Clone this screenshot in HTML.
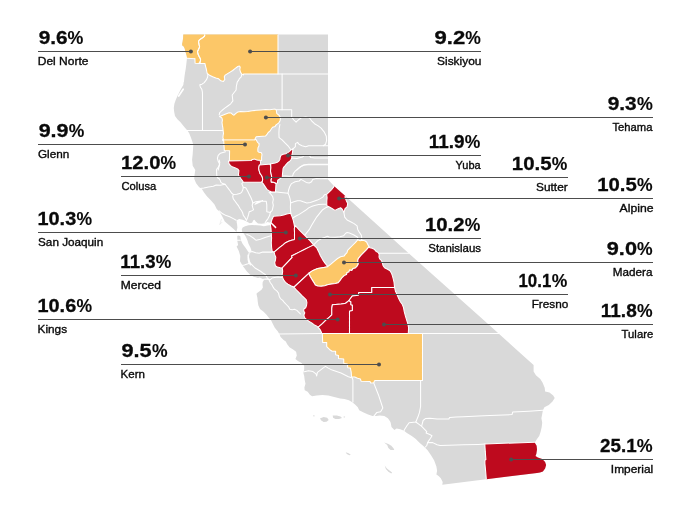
<!DOCTYPE html>
<html lang="en"><head><meta charset="utf-8"><title>California counties</title>
<style>html,body{margin:0;padding:0;background:#fff}body{width:682px;height:509px;overflow:hidden;position:relative}svg{position:absolute;left:0;top:0;display:block}text{font-family:"Liberation Sans",sans-serif;fill:#0a0a0a}.n{font-weight:bold;font-size:19.0px;stroke:#0a0a0a;stroke-width:.3px}.c{font-size:11.0px;stroke:#0a0a0a;stroke-width:.35px}.ld{stroke:#4d4d4d;stroke-width:1;fill:none}.dot{fill:#4d4d4d}.b{fill:none;stroke:#fff;stroke-width:1.05;stroke-linejoin:round;stroke-linecap:round}.cy{stroke:#fff;stroke-width:1.05;stroke-linejoin:round}</style></head><body>
<svg width="682" height="509" viewBox="0 0 682 509">
<g id="map">
<path fill="#d9d9d9" d="M183.4,34.6 L328.0,34.6 L328.0,179.4 L334.2,186.3 L344.5,195.3 L404.8,249.8 L430.0,272.2 L483.6,320.0 L522.4,355.0 L533.6,365.0 L533.6,371.6 L535.9,375.2 L540.3,378.9 L542.5,382.6 L544.7,387.8 L545.1,391.4 L548.4,392.2 L549.5,392.5 L553.2,395.5 L554.7,398.0 L552.5,401.4 L548.8,405.0 L544.4,407.2 L542.9,410.2 L542.2,413.9 L541.4,418.3 L542.2,422.7 L541.7,427.1 L540.7,431.6 L539.2,436.0 L537.0,438.9 L535.1,441.9 L534.8,442.8 L536.6,445.8 L537.0,449.5 L536.3,453.9 L535.5,456.1 L537.8,457.6 L542.2,459.0 L545.1,462.0 L546.1,464.9 L545.1,468.6 L542.9,471.6 L540.0,472.6 L537.0,473.0 L442.3,484.8 L442.7,481.9 L440.8,478.2 L438.6,476.0 L436.4,474.5 L437.1,470.8 L436.4,466.4 L434.2,460.5 L431.2,455.4 L427.6,450.2 L423.9,446.5 L419.5,442.8 L415.8,439.1 L412.1,436.2 L410.6,435.2 L406.9,433.0 L404.0,430.8 L400.3,429.3 L396.6,428.6 L394.4,430.1 L391.5,427.1 L390.7,422.7 L390.0,421.2 L387.9,418.3 L384.3,416.1 L379.8,415.4 L376.2,416.1 L372.5,416.1 L368.1,414.6 L363.6,412.4 L359.2,410.2 L357.8,407.2 L354.8,404.3 L351.9,402.1 L348.9,400.3 L344.5,398.9 L340.1,398.4 L334.2,396.9 L328.3,395.5 L322.4,395.0 L316.5,395.5 L312.1,396.2 L309.9,394.7 L307.7,391.8 L304.7,390.3 L304.4,387.4 L305.5,383.7 L304.7,380.0 L304.2,376.0 L303.4,373.0 L304.2,369.3 L304.2,365.7 L301.2,362.7 L298.3,361.2 L295.4,359.0 L296.8,355.4 L296.1,351.7 L293.1,349.5 L289.5,347.2 L287.2,344.3 L285.8,341.4 L283.6,340.0 L280.6,337.1 L279.5,334.2 L277.7,331.2 L274.8,327.7 L273.0,324.2 L271.2,320.6 L268.9,317.7 L266.5,314.8 L263.6,311.8 L260.0,308.9 L258.3,305.3 L257.7,301.2 L257.4,297.7 L256.5,294.1 L256.8,293.3 L259.2,291.5 L261.5,289.8 L262.9,287.4 L262.5,284.5 L262.7,282.1 L263.9,280.3 L262.7,279.1 L259.8,277.4 L258.0,278.1 L253.6,276.7 L249.9,274.5 L246.9,271.5 L244.7,268.6 L242.5,265.6 L240.0,261.2 L240.3,256.1 L238.8,250.9 L236.6,246.5 L238.1,245.0 L237.3,240.7 L237.3,235.5 L236.6,231.9 L233.6,228.9 L229.2,225.2 L224.8,221.6 L221.9,215.7 L219.7,212.0 L216.7,209.0 L214.5,204.6 L210.8,200.2 L207.1,196.5 L204.2,192.8 L202.0,189.2 L199.0,186.9 L196.1,183.2 L194.2,178.8 L194.6,174.4 L195.3,170.0 L192.7,165.7 L192.1,159.8 L192.7,153.9 L193.1,148.0 L193.3,145.0 L192.3,141.6 L190.9,137.4 L189.2,133.3 L187.4,130.4 L185.6,128.6 L183.3,125.7 L180.3,122.1 L177.4,119.2 L175.0,115.9 L174.2,112.1 L173.8,108.0 L174.4,103.8 L175.8,99.7 L177.7,95.6 L179.7,91.5 L181.5,88.0 L183.3,85.0 L183.7,81.9 L183.9,82.0 L184.4,77.2 L185.0,73.1 L185.7,69.0 L186.2,64.9 L186.7,60.8 L187.0,57.7 L186.7,55.7 L186.0,53.6 L185.2,51.0 L184.7,48.5 L183.7,46.4 L182.3,45.4 L182.1,43.9 L182.6,41.8 L183.1,38.2 L183.3,34.6Z"/>
<path fill="#d9d9d9" d="M319.9,418.4 L323.6,416.9 L327.2,417.7 L328.7,419.9 L326.5,421.8 L323.6,422.1 L321.4,420.6Z"/>
<path fill="#d9d9d9" d="M332.7,415.5 L336.8,415.5 L340.5,416.5 L342.0,418.0 L339.0,419.1 L335.4,419.1 L333.1,417.7Z"/>
<path fill="#d9d9d9" d="M313.2,415.3 L314.7,415.6 L314.4,416.6 L313.2,416.2Z"/>
<path fill="#d9d9d9" d="M343.6,416.5 L345.1,416.6 L344.8,417.5 L343.7,417.4Z"/>
<path fill="#d9d9d9" d="M384.2,442.4 L388.4,443.9 L391.3,445.7 L393.5,448.3 L394.3,450.1 L390.6,450.1 L388.4,447.9 L387.2,444.9Z"/>
<path fill="#d9d9d9" d="M345.7,452.3 L348.6,453.3 L350.8,454.8 L349.3,455.2 L346.8,453.9Z"/>
<path fill="#d9d9d9" d="M384.7,465.5 L386.9,468.5 L389.8,470.7 L392.1,472.5 L391.3,473.6 L388.4,471.7 L385.9,468.9Z"/>
<path fill="none" stroke="#d9d9d9" stroke-width=".7" stroke-opacity=".6" d="M221.5,218.9 L219.7,224.6 L222.2,222.0"/>
<path fill="#fff" d="M236.2,232.7 L236.8,230.3 L237.4,227.4 L237.1,224.4 L236.6,222.1 L236.8,220.3 L239.2,219.1 L242.7,219.7 L245.7,220.9 L249.8,223.3 L252.1,222.7 L253.3,220.3 L254.5,219.7 L255.7,221.5 L258.0,223.6 L261.6,223.8 L265.1,223.3 L267.4,222.1 L270.4,222.7 L271.2,223.8 L271.0,225.0 L267.4,225.6 L263.9,226.2 L260.4,225.6 L256.8,225.3 L252.1,225.0 L248.6,225.3 L245.1,226.2 L242.7,227.4 L241.8,229.2 L242.1,231.5 L244.5,234.5 L246.2,237.4 L247.4,240.3 L248.6,243.9 L250.4,247.4 L251.5,250.4 L250.4,252.1 L249.2,252.7 L248.0,251.5 L245.7,248.0 L242.7,243.9 L240.9,240.3 L240.3,236.2 L238.6,235.4 L236.6,235.9 L235.0,234.5Z"/>
<path class="b" d="M207.9,73.8 L207.7,76.7 L206.5,79.7 L204.2,82.6 L202.0,84.2 L199.8,84.8 L200.3,87.0 L201.8,89.2 L202.4,92.2 L202.5,95.0 L202.5,130.5"/>
<path class="b" d="M241.8,74.5 L241.2,76.8 L239.4,78.6 L238.5,80.4 L237.2,82.1 L236.8,84.3 L236.3,86.5 L236.1,90.0 L232.2,95.0 L232.5,98.0 L232.9,100.9 L230.7,103.8 L227.8,106.0 L224.8,108.2 L221.9,110.5 L219.7,112.7 L219.2,114.9"/>
<path class="b" d="M278.0,73.9 L328.0,73.9"/>
<path class="b" d="M282.1,73.9 L282.1,109.7"/>
<path class="b" d="M187.0,130.5 L223.3,130.5"/>
<path class="b" d="M225.5,151.7 L220.4,153.2 L218.2,155.4 L217.4,158.3 L218.2,161.3 L219.7,164.2 L218.9,167.2 L218.2,170.0"/>
<path class="b" d="M276.2,109.7 L291.7,109.7 L291.7,117.1 L293.9,120.0 L296.1,122.2 L298.3,120.0 L301.2,117.8 L305.7,117.1 L309.3,117.8 L311.6,120.8 L314.5,123.7 L318.2,125.9 L321.1,128.1 L324.1,131.8 L326.3,136.2 L326.6,140.7 L325.5,144.3 L323.3,145.8"/>
<path class="b" d="M279.9,124.5 L279.1,128.9 L278.9,133.3 L279.1,137.7 L282.1,139.9 L285.0,142.9 L288.0,145.8 L290.2,148.8 L291.7,150.2 L295.4,146.6 L295.4,143.6 L297.6,142.4 L299.0,144.3 L302.0,145.8 L305.7,146.8 L308.6,145.8 L323.3,145.8 L328.0,145.8"/>
<path class="b" d="M291.2,158.0 L296.8,158.6 L302.7,156.9 L304.2,155.4 L309.3,155.7 L310.8,157.6 L314.5,158.0 L328.0,158.0"/>
<path class="b" d="M296.8,170.0 L299.8,167.2 L303.4,165.0 L308.6,164.2 L328.0,164.2"/>
<path class="b" d="M219.2,160.0 L219.8,162.4 L219.2,165.3 L218.0,167.7 L216.6,169.4 L216.6,171.8 L216.8,175.3 L217.4,177.7 L219.2,178.8 L220.3,180.6 L220.9,182.4 L222.7,183.6 L225.1,184.2"/>
<path class="b" d="M200.3,188.5 L203.8,188.0 L208.6,186.9 L213.3,186.2 L216.2,185.0 L220.3,185.3 L225.1,184.2 L226.8,186.5 L228.6,188.9 L230.4,191.2 L231.5,193.0 L233.3,194.4"/>
<path class="b" d="M243.6,181.8 L241.8,183.6 L242.7,185.9 L243.3,187.7 L242.7,190.0 L241.6,192.4 L239.8,193.6 L236.8,194.2 L233.3,194.4 L232.7,196.5 L233.3,198.9 L235.1,201.2 L236.8,203.6 L238.6,205.9 L239.8,208.3 L241.6,210.7 L242.7,213.0 L243.3,215.4 L245.1,217.7 L246.3,220.0"/>
<path class="b" d="M243.3,187.3 L245.7,187.7 L247.4,190.6 L249.2,194.2 L251.0,197.7 L252.2,200.7 L252.8,203.0 L252.2,205.4 L252.1,205.0 L252.7,207.4 L253.5,209.9 L251.5,210.9 L249.2,211.8 L248.6,214.4 L247.7,217.4 L246.5,220.3"/>
<path class="b" d="M252.8,203.0 L255.7,201.8 L259.2,201.2 L262.8,200.7 L255.0,204.2 L258.5,201.8 L262.1,201.2 L266.2,201.2 L266.8,204.8 L266.8,209.5 L266.8,211.8 L270.3,212.4"/>
<path class="b" d="M219.1,210.9 L222.7,213.8 L226.2,215.6 L229.7,216.8 L233.3,218.6 L236.2,220.3"/>
<path class="b" d="M246.8,234.5 L249.8,235.6 L253.3,238.0 L256.2,240.3 L260.4,239.2 L265.1,237.4 L269.2,236.2 L271.9,235.4"/>
<path class="b" d="M250.4,252.1 L252.1,251.5 L255.7,252.7 L259.2,253.3 L262.7,252.1 L267.4,252.1 L272.2,252.1 L274.3,251.3"/>
<path class="b" d="M249.2,252.7 L248.6,255.7 L248.0,259.2 L248.6,262.1 L250.4,265.0 L248.0,255.0 L248.0,257.9 L249.2,260.9 L250.3,263.2 L252.7,265.6 L255.0,268.0 L258.0,269.7 L260.9,271.5 L263.3,273.3 L265.1,274.4 L267.4,278.0 L269.2,280.3 L270.4,282.7 L272.1,285.0 L273.3,287.4 L274.5,289.2 L276.8,290.9 L278.6,293.3 L279.2,296.2 L280.4,298.6 L282.7,300.4 L284.5,302.7 L286.3,304.5 L288.6,306.8 L289.8,309.2 L292.2,309.8 L294.5,309.2 L296.9,310.4 L298.6,312.1 L300.4,313.9"/>
<path class="b" d="M236.8,240.3 L240.3,240.3"/>
<path class="b" d="M270.4,212.1 L269.6,215.6 L268.0,218.6 L266.3,220.9 L265.1,222.7"/>
<path class="b" d="M240.9,265.6 L244.4,265.0 L248.0,263.8 L250.0,263.0"/>
<path class="b" d="M262.9,279.5 L265.6,279.1 L268.0,279.1 L270.4,279.7 L272.1,278.0 L274.5,277.4 L278.0,277.1 L281.6,277.4 L282.7,276.8"/>
<path class="b" d="M282.1,175.9 L285.6,175.9 L289.2,176.3 L292.7,175.9 L293.3,173.6 L295.1,171.2 L298.0,168.8 L300.9,166.5 L304.5,164.9 L308.0,164.7 L328.1,164.7"/>
<path class="b" d="M269.7,192.4 L275.0,191.8 L280.9,192.4 L288.0,193.3 L288.6,190.0 L289.8,186.5 L291.5,183.6 L295.1,181.8 L299.2,181.0 L300.9,179.4 L303.3,180.6 L306.2,182.4 L309.2,183.0 L311.6,181.8 L312.7,179.4 L316.3,178.6 L321.0,178.8 L325.7,178.6 L328.1,178.8"/>
<path class="b" d="M288.0,193.3 L289.2,195.9 L290.1,198.9 L290.6,202.4 L290.4,207.1 L290.6,210.7 L290.9,214.2 L290.9,214.2"/>
<path class="b" d="M290.6,203.0 L293.9,201.8 L297.4,200.7 L300.4,200.7 L303.3,201.8 L306.8,203.0 L310.4,202.4 L313.9,201.2 L317.4,200.1 L319.8,198.9 L322.8,197.1 L324.5,194.8 L327.1,194.2"/>
<path class="b" d="M292.7,218.0 L295.6,216.2 L299.2,214.4 L302.7,212.1 L305.6,210.3 L308.6,207.9 L312.1,206.2 L314.5,205.4 L318.6,204.5 L322.8,204.2 L327.1,204.2"/>
<path class="b" d="M269.1,192.4 L270.9,194.2 L272.7,196.5 L273.3,199.5 L272.7,202.4 L273.3,205.4 L272.7,208.3 L272.1,210.7 L270.3,212.4"/>
<path class="b" d="M303.9,236.2 L306.2,233.3 L309.2,229.7 L311.5,225.6 L313.9,221.5 L316.8,216.8 L319.8,213.2 L322.7,209.7 L326.3,207.4 L329.2,206.2"/>
<path class="b" d="M313.4,245.2 L315.5,243.0 L317.8,240.6 L321.6,238.6 L325.0,237.3 L327.4,236.3 L329.2,237.0 L335.0,237.2 L340.0,236.8 L343.5,235.8 L345.5,233.5 L347.1,232.4 L349.4,233.0 L353.5,234.8 L357.7,237.2 L357.7,240.0"/>
<path class="b" d="M343.5,211.0 L344.1,213.6 L344.7,217.1 L347.1,220.0 L350.6,221.8 L354.1,223.6 L357.1,225.9 L357.7,229.5 L359.4,232.4 L361.4,235.4 L361.8,238.9 L361.4,240.7"/>
<path class="b" d="M378.6,253.3 L408.6,253.3"/>
<path class="b" d="M279.0,334.0 L322.6,333.6"/>
<path class="b" d="M422.5,333.5 L499.5,333.5"/>
<path class="b" d="M304.2,371.8 L308.6,370.8 L313.0,371.6 L316.0,373.8 L316.7,376.0 L317.4,372.3 L320.4,370.1 L323.3,367.9 L325.5,366.4 L327.8,367.9 L332.2,370.1 L336.6,371.6 L341.0,373.0 L345.4,375.2 L348.4,376.7 L351.6,377.7"/>
<path class="b" d="M352.1,377.4 L352.9,380.0 L352.9,402.1"/>
<path class="b" d="M373.6,382.6 L378.4,394.7 L382.8,408.0 L380.6,411.7 L376.9,412.4 L373.9,416.1"/>
<path class="b" d="M420.7,380.4 L420.6,380.0 L420.6,406.5 L419.5,412.4 L418.0,416.8 L415.8,422.0 L409.1,422.7 L406.9,425.7 L404.7,429.3 L404.0,430.8"/>
<path class="b" d="M415.8,422.0 L418.7,424.2 L421.7,426.4 L424.6,429.3 L426.8,431.6 L426.1,433.0 L429.8,434.5 L432.0,435.7 L430.5,438.2 L429.0,440.4 L427.6,442.6 L426.8,445.5 L425.4,447.0"/>
<path class="b" d="M421.7,425.9 L423.1,420.5 L425.4,418.6 L429.8,418.3 L437.1,419.0 L448.9,419.0 L449.6,417.6 L456.3,417.1 L463.6,416.8 L478.4,416.1 L490.0,415.4 L512.0,414.6 L512.7,412.1 L528.9,411.2 L542.9,410.2"/>
<path class="b" d="M427.6,442.6 L432.7,442.6 L437.1,444.8 L440.1,445.5 L448.9,445.2 L463.6,444.8 L478.4,444.4 L485.0,444.1"/>
<path fill="#fcc768" d="M194.9,58.8 L195.1,63.2 L200.2,63.5 L200.4,62.9 L199.8,62.8 L200.6,59.8 L200.1,58.2 L199.0,56.2 L198.0,54.1 L197.5,51.5 L198.5,49.5 L199.6,46.9 L199.0,44.4 L198.5,41.8 L199.0,40.3 L201.1,38.7 L203.2,37.4 L204.5,36.2 L204.9,34.6 L205.5,34.6 L205.5,34.6 L183.4,34.6 L183.3,34.6 L183.1,38.2 L182.6,41.8 L182.1,43.9 L182.3,45.4 L183.7,46.4 L184.7,48.5 L185.2,51.0 L186.0,53.6 L186.7,55.7 L187.0,57.7 L187.0,58.3Z"/>
<path fill="#fcc768" d="M204.5,36.2 L203.2,37.4 L201.1,38.7 L199.0,40.3 L198.5,41.8 L199.0,44.4 L199.6,46.9 L198.5,49.5 L197.5,51.5 L198.0,54.1 L199.0,56.2 L200.1,58.2 L200.6,59.8 L199.8,62.8 L199.1,62.8 L199.0,63.4 L205.0,63.6 L205.3,65.5 L206.2,68.6 L206.7,71.2 L207.2,73.5 L209.5,75.2 L212.7,76.7 L215.8,78.0 L218.7,78.8 L220.8,80.8 L223.4,81.5 L224.8,79.4 L224.3,76.8 L225.2,75.1 L227.6,73.6 L230.1,72.1 L232.7,70.5 L235.3,68.4 L237.8,66.5 L239.4,66.1 L240.2,67.1 L239.8,69.6 L240.6,72.3 L241.7,74.1 L243.5,74.9 L243.5,74.0 L278.0,74.0 L278.0,34.6 L204.3,34.6 L204.3,34.6 L204.9,34.6Z"/>
<path class="cy" fill="#fcc768" d="M219.5,116.5 L221.9,117.9 L222.4,120.0 L222.0,122.7 L222.4,125.4 L222.9,128.0 L223.1,130.7 L223.5,133.3 L223.1,135.5 L222.9,137.7 L223.7,140.1 L224.3,140.1 L224.3,140.0 L223.8,139.9 L254.8,139.9 L254.8,139.7 L255.0,139.8 L255.0,139.7 L255.4,138.2 L256.2,136.8 L259.2,136.6 L262.7,136.3 L265.5,136.1 L266.8,134.7 L268.2,132.5 L269.9,131.2 L271.3,129.0 L272.6,127.3 L275.1,126.4 L276.3,124.6 L278.6,123.1 L280.1,120.8 L280.5,117.8 L279.3,115.5 L276.7,113.3 L276.4,110.4 L275.1,109.0 L273.3,109.2 L269.8,109.7 L265.4,109.4 L260.9,109.9 L256.5,110.3 L252.1,110.8 L247.7,111.4 L244.2,111.7 L240.6,111.4 L237.9,111.9 L235.6,113.7 L234.0,115.2 L232.8,114.6 L231.0,112.9 L229.1,112.7 L226.4,113.7 L222.0,115.4 L219.5,116.4Z"/>
<path class="cy" fill="#fcc768" d="M222.6,140.4 L223.7,140.5 L223.9,143.6 L224.1,147.1 L224.3,150.6 L229.6,150.7 L229.4,161.1 L251.3,161.1 L252.6,160.0 L252.7,160.0 L252.8,159.8 L254.7,159.6 L255.4,160.0 L256.5,160.5 L258.3,160.8 L261.6,160.4 L261.6,157.3 L262.0,154.5 L261.4,152.7 L259.0,152.2 L258.0,151.6 L257.8,149.7 L258.0,147.7 L258.9,145.9 L259.1,143.7 L257.5,142.3 L256.6,140.6 L256.1,139.5 L254.9,139.2 L254.8,139.7 L254.8,139.9 L223.8,139.9 L223.6,139.3 L222.6,139.3Z"/>
<path class="cy" fill="#be0a1e" d="M229.0,163.7 L230.5,165.6 L232.9,167.1 L235.5,167.9 L238.0,169.2 L238.9,170.6 L238.7,172.6 L238.4,175.0 L239.7,177.0 L241.0,178.8 L242.3,180.5 L243.4,182.3 L262.8,182.3 L262.8,182.3 L262.3,181.7 L262.7,179.3 L262.3,177.1 L261.4,175.3 L260.1,173.6 L259.2,170.9 L258.7,168.3 L259.2,165.6 L259.4,165.6 L259.8,165.6 L260.7,163.5 L260.1,160.2 L258.4,160.2 L256.7,159.9 L256.7,159.9 L256.5,159.9 L255.7,159.5 L254.9,159.1 L252.4,159.4 L251.2,160.5 L251.1,160.5 L251.0,160.6 L228.4,161.1Z"/>
<path class="cy" fill="#be0a1e" d="M259.4,165.0 L259.2,165.6 L258.7,168.3 L259.2,170.9 L260.1,173.6 L261.4,175.3 L262.3,177.1 L262.7,179.3 L262.3,181.7 L261.7,181.7 L261.6,181.9 L263.3,183.9 L265.1,186.6 L266.9,189.3 L268.8,190.7 L271.2,191.7 L275.4,192.0 L275.7,188.9 L275.9,185.4 L276.1,182.7 L276.1,182.7 L275.5,182.9 L272.7,182.0 L271.3,182.2 L271.1,180.0 L271.8,177.4 L271.3,174.7 L270.5,171.2 L270.9,167.7 L270.7,164.8 L270.9,164.6 L271.3,164.5 L271.3,164.1 L259.4,165.0Z"/>
<path class="cy" fill="#be0a1e" d="M270.1,164.5 L270.1,164.8 L270.7,164.8 L270.9,167.7 L270.5,171.2 L271.3,174.7 L271.8,177.4 L271.1,180.0 L271.3,182.2 L272.7,182.0 L275.5,183.1 L275.5,183.5 L275.5,183.5 L277.5,183.0 L277.7,180.2 L282.3,177.1 L282.5,173.9 L282.8,171.3 L283.0,168.7 L283.8,167.1 L285.0,165.9 L286.4,164.1 L287.6,162.8 L289.4,161.5 L290.8,160.1 L291.8,158.1 L291.8,155.4 L292.4,152.8 L293.0,148.9 L292.7,148.7 L289.5,151.3 L287.8,152.6 L285.7,153.7 L283.1,154.3 L281.0,155.3 L280.2,157.3 L279.9,159.5 L278.8,161.1 L277.3,162.3 L275.2,162.9 L272.5,163.5 L270.6,164.0Z"/>
<path fill="#be0a1e" d="M333.4,187.3 L331.6,189.6 L329.3,191.9 L326.7,194.5 L327.1,197.7 L326.8,201.2 L326.8,205.7 L329.4,207.0 L332.4,208.8 L335.0,210.4 L338.2,208.8 L340.8,207.8 L342.2,209.2 L343.9,212.1 L344.2,212.0 L345.0,208.6 L347.1,206.8 L347.7,203.5 L346.2,200.4 L345.1,197.6 L345.1,195.8 L344.5,195.3 L334.2,186.3 L334.1,186.2Z"/>
<path class="cy" fill="#be0a1e" d="M272.2,218.9 L271.0,222.5 L270.4,225.0 L271.0,228.6 L271.3,233.3 L271.6,238.0 L271.3,242.7 L271.6,247.5 L272.2,251.3 L274.5,252.5 L274.5,252.5 L274.4,251.9 L274.4,251.9 L276.8,249.8 L279.7,247.4 L282.7,245.1 L285.6,242.7 L288.6,241.3 L291.5,240.3 L293.9,239.8 L294.5,239.2 L294.5,232.1 L294.7,228.6 L294.8,228.3 L294.7,227.3 L294.0,223.7 L293.2,220.2 L292.0,216.6 L290.6,213.3 L286.7,213.9 L283.7,215.1 L280.3,215.7 L276.7,216.1 L273.5,216.3Z"/>
<path class="cy" fill="#be0a1e" d="M274.0,251.7 L274.7,254.6 L275.8,257.3 L275.5,259.9 L274.7,262.7 L275.4,265.8 L277.3,267.1 L280.3,267.7 L282.1,268.0 L282.1,268.3 L282.3,268.4 L282.6,268.1 L282.5,267.7 L292.2,257.4 L291.5,255.9 L294.5,254.5 L299.2,252.1 L303.9,249.8 L308.6,247.4 L313.3,245.1 L313.5,245.3 L313.9,245.2 L310.0,240.7 L306.5,237.2 L302.9,233.6 L299.4,230.1 L295.2,225.5 L295.2,225.5 L294.3,228.5 L294.3,229.1 L294.5,232.1 L294.5,239.2 L293.9,239.8 L291.5,240.3 L288.6,241.3 L285.6,242.7 L282.7,245.1 L279.7,247.4 L276.8,249.8 L274.4,251.9 L274.0,251.7Z"/>
<path class="cy" fill="#be0a1e" d="M313.4,244.7 L313.1,244.8 L313.3,245.1 L308.6,247.4 L303.9,249.8 L299.2,252.1 L294.5,254.5 L291.5,255.9 L292.2,257.4 L282.5,267.7 L282.5,267.7 L282.2,267.7 L282.4,268.6 L282.7,271.5 L282.2,274.4 L282.4,276.9 L283.6,279.9 L285.5,282.3 L287.9,284.1 L290.8,285.7 L293.8,287.1 L294.2,287.4 L294.3,287.2 L294.1,287.0 L308.8,273.3 L313.0,270.4 L317.7,268.6 L322.4,267.8 L327.7,266.8 L327.9,266.6 L325.0,263.1 L322.6,259.6 L320.3,255.5 L318.5,251.4 L316.7,247.8 L313.8,245.2Z"/>
<path class="cy" fill="#fcc768" d="M369.0,246.8 L367.8,244.4 L366.6,242.0 L364.8,240.8 L362.4,240.2 L360.1,240.8 L357.7,239.8 L355.3,242.6 L352.4,245.5 L350.0,247.9 L347.6,250.3 L347.0,252.6 L345.3,254.4 L344.1,256.1 L340.6,256.7 L337.6,258.5 L334.1,261.4 L330.6,264.4 L327.6,266.7 L327.6,266.7 L327.7,266.8 L322.4,267.8 L317.7,268.6 L313.0,270.4 L308.8,273.3 L310.0,276.2 L311.8,279.2 L313.6,282.1 L315.3,285.1 L317.7,285.9 L321.2,286.2 L324.7,285.7 L328.3,284.5 L331.8,283.9 L335.4,283.5 L338.3,282.7 L340.1,280.4 L341.8,278.0 L344.2,275.6 L346.5,274.5 L347.1,272.5 L348.9,272.1 L349.5,270.1 L351.8,270.4 L353.0,268.6 L355.4,268.0 L357.1,266.2 L358.3,263.9 L357.7,260.9 L358.3,258.6 L360.7,255.6 L363.6,252.7 L366.6,249.7 L368.9,246.8 L369.0,246.9Z"/>
<path class="cy" fill="#be0a1e" d="M293.8,287.0 L296.3,289.9 L299.3,292.8 L302.2,295.8 L304.6,298.1 L306.3,299.9 L306.9,302.7 L306.5,305.6 L305.7,307.8 L303.9,309.0 L303.7,311.0 L304.8,312.7 L303.9,315.0 L304.5,317.5 L306.4,319.4 L308.7,321.2 L311.7,322.9 L314.0,324.7 L316.4,325.9 L318.3,327.4 L318.5,327.3 L318.3,327.1 L322.4,323.6 L325.9,320.1 L329.4,317.1 L331.8,314.8 L331.8,308.3 L332.4,304.7 L341.2,304.1 L344.7,303.6 L345.9,303.0 L348.9,300.6 L350.6,298.3 L352.4,295.9 L358.3,295.3 L358.9,292.4 L371.8,292.4 L371.8,287.5 L394.3,287.5 L394.4,287.8 L394.6,287.8 L394.0,282.1 L393.3,279.1 L392.5,276.2 L391.5,273.2 L390.0,270.7 L387.5,269.2 L384.5,267.7 L383.1,265.8 L382.5,263.4 L381.5,260.6 L379.7,258.9 L379.0,257.1 L379.2,254.6 L378.2,252.6 L375.9,251.2 L374.2,249.2 L372.2,248.3 L369.8,247.7 L368.9,246.4 L368.8,246.5 L368.9,246.8 L366.6,249.7 L363.6,252.7 L360.7,255.6 L358.3,258.6 L357.7,260.9 L358.3,263.9 L357.1,266.2 L355.4,268.0 L353.0,268.6 L351.8,270.4 L349.5,270.1 L348.9,272.1 L347.1,272.5 L346.5,274.5 L344.2,275.6 L341.8,278.0 L340.1,280.4 L338.3,282.7 L335.4,283.5 L331.8,283.9 L328.3,284.5 L324.7,285.7 L321.2,286.2 L317.7,285.9 L315.3,285.1 L313.6,282.1 L311.8,279.2 L310.0,276.2 L308.8,273.3 L294.1,287.0 L294.0,286.9Z"/>
<path class="cy" fill="#be0a1e" d="M321.1,331.6 L321.8,333.5 L322.6,333.5 L349.5,333.5 L349.5,311.2 L352.4,310.6 L352.4,305.0 L350.9,304.7 L350.9,301.8 L348.9,300.6 L345.9,303.0 L344.7,303.6 L341.2,304.1 L332.4,304.7 L331.8,308.3 L331.8,314.8 L329.4,317.1 L325.9,320.1 L322.4,323.6 L318.3,327.1 L318.2,327.0 L318.0,327.1 L319.9,329.3Z"/>
<path class="cy" fill="#be0a1e" d="M408.0,324.3 L406.9,320.9 L405.5,316.3 L404.3,311.8 L403.4,307.2 L402.2,304.3 L400.5,302.0 L398.8,298.7 L397.1,294.7 L395.5,291.3 L394.5,287.2 L394.3,287.2 L394.3,287.5 L371.8,287.5 L371.8,292.4 L358.9,292.4 L358.3,295.3 L352.4,295.9 L350.6,298.3 L348.9,300.6 L350.9,301.8 L350.9,304.7 L352.4,305.0 L352.4,310.6 L349.5,311.2 L349.5,333.5 L408.3,333.5 L408.6,327.8Z"/>
<path class="cy" fill="#fcc768" d="M326.7,346.6 L329.8,349.7 L332.1,351.2 L335.6,351.2 L335.6,354.8 L338.5,355.6 L338.5,358.6 L343.7,358.9 L343.8,363.5 L347.4,364.0 L347.8,367.7 L350.3,367.9 L351.2,372.1 L351.5,376.8 L354.7,377.1 L357.6,378.3 L360.4,379.0 L361.1,381.2 L370.0,381.5 L370.7,383.0 L373.8,382.8 L374.4,380.8 L375.0,380.8 L375.0,380.5 L422.5,380.5 L422.5,333.5 L408.0,333.5 L349.5,333.5 L322.3,333.5 L322.7,342.4 L326.7,342.4Z"/>
<path fill="#be0a1e" d="M485.3,451.7 L485.9,459.5 L484.9,460.2 L484.9,463.5 L485.6,470.9 L486.3,479.3 L537.0,473.0 L540.0,472.6 L542.9,471.6 L545.1,468.6 L546.1,464.9 L545.1,462.0 L542.2,459.0 L537.8,457.6 L535.5,456.1 L536.3,453.9 L537.0,449.5 L536.6,445.8 L534.8,442.8 L535.0,442.2 L484.8,444.0Z"/>
<path class="b" d="M194.9,58.8 L195.1,63.2 L200.2,63.5 L200.4,62.9 L199.8,62.8 L200.6,59.8 L200.1,58.2 L199.0,56.2 L198.0,54.1 L197.5,51.5 L198.5,49.5 L199.6,46.9 L199.0,44.4 L198.5,41.8 L199.0,40.3 L201.1,38.7 L203.2,37.4 L204.5,36.2 L204.8,34.9"/>
<path class="b" d="M187.2,58.3 L194.9,58.8"/>
<path class="b" d="M204.5,36.2 L203.2,37.4 L201.1,38.7 L199.0,40.3 L198.5,41.8 L199.0,44.4 L199.6,46.9 L198.5,49.5 L197.5,51.5 L198.0,54.1 L199.0,56.2 L200.1,58.2 L200.6,59.8 L199.8,62.8 L199.1,62.8 L199.0,63.4 L205.0,63.6 L205.3,65.5 L206.2,68.6 L206.7,71.2 L207.2,73.5 L209.5,75.2 L212.7,76.7 L215.8,78.0 L218.7,78.8 L220.8,80.8 L223.4,81.5 L224.8,79.4 L224.3,76.8 L225.2,75.1 L227.6,73.6 L230.1,72.1 L232.7,70.5 L235.3,68.4 L237.8,66.5 L239.4,66.1 L240.2,67.1 L239.8,69.6 L240.6,72.3 L241.7,74.1 L243.5,74.9 L243.5,74.0 L278.0,74.0 L278.0,34.9"/>
<path class="b" d="M204.8,34.9 L204.5,36.2"/>
<path class="b" d="M333.4,187.3 L331.6,189.6 L329.3,191.9 L326.7,194.5 L327.1,197.7 L326.8,201.2 L326.8,205.7 L329.4,207.0 L332.4,208.8 L335.0,210.4 L338.2,208.8 L340.8,207.8 L342.2,209.2 L343.9,212.1 L344.2,212.0 L345.0,208.6 L347.1,206.8 L347.7,203.5 L346.2,200.4 L345.1,197.6 L345.1,196.1"/>
<path class="b" d="M334.0,186.4 L333.4,187.3"/>
<path class="b" d="M485.3,451.7 L485.9,459.5 L484.9,460.2 L484.9,463.5 L485.6,470.9 L486.3,479.1"/>
<path class="b" d="M534.7,442.2 L484.8,444.0 L485.3,451.7"/>
<path d="M224,139.95H254.6" stroke="#fcc768" stroke-width="1.2" opacity=".35" fill="none"/>
<path class="b" style="stroke-width:1.7" d="M183.2,89.2 L178.7,96.0"/>
<path class="b" style="stroke-width:1.5" d="M270.9,222.7 L275.6,227.4"/>
</g>
<g id="leaders">
<path class="ld" d="M38.0,51.50H190.9"/><circle class="dot" cx="190.9" cy="51.50" r="2"/>
<path class="ld" d="M38.0,144.50H245.0"/><circle class="dot" cx="245.0" cy="144.50" r="2"/>
<path class="ld" d="M38.0,232.50H285.8"/><circle class="dot" cx="285.8" cy="232.50" r="2"/>
<path class="ld" d="M38.0,319.50H337.6"/><circle class="dot" cx="337.6" cy="319.50" r="2"/>
<path class="ld" d="M121.0,176.50H248.9"/><circle class="dot" cx="248.9" cy="176.50" r="2"/>
<path class="ld" d="M121.0,275.50H295.8"/><circle class="dot" cx="295.8" cy="275.50" r="2"/>
<path class="ld" d="M121.0,364.50H379.0"/><circle class="dot" cx="379.0" cy="364.50" r="2"/>
<path class="ld" d="M250.1,51.50H481.0"/><circle class="dot" cx="250.1" cy="51.50" r="2"/>
<path class="ld" d="M288.0,155.50H481.0"/><circle class="dot" cx="288.0" cy="155.50" r="2"/>
<path class="ld" d="M299.8,238.50H481.0"/><circle class="dot" cx="299.8" cy="238.50" r="2"/>
<path class="ld" d="M266.8,177.50H568.0"/><circle class="dot" cx="266.8" cy="177.50" r="2"/>
<path class="ld" d="M330.0,294.50H568.0"/><circle class="dot" cx="330.0" cy="294.50" r="2"/>
<path class="ld" d="M265.9,117.50H653.0"/><circle class="dot" cx="265.9" cy="117.50" r="2"/>
<path class="ld" d="M339.1,198.50H653.0"/><circle class="dot" cx="339.1" cy="198.50" r="2"/>
<path class="ld" d="M344.0,262.50H653.0"/><circle class="dot" cx="344.0" cy="262.50" r="2"/>
<path class="ld" d="M384.0,324.50H653.0"/><circle class="dot" cx="384.0" cy="324.50" r="2"/>
<path class="ld" d="M511.2,459.50H653.0"/><circle class="dot" cx="511.2" cy="459.50" r="2"/>
</g>
<g id="labels">
<text class="n" x="38.65" y="43.80"><tspan  textLength="28.96" lengthAdjust="spacingAndGlyphs">9.6</tspan><tspan stroke-width=".12" dx="-0.05" textLength="15.85" lengthAdjust="spacingAndGlyphs">%</tspan></text>
<text class="c" text-anchor="start" transform="translate(37.75,65.00) scale(1.0929,1)">Del Norte</text>
<text class="n" x="38.65" y="136.80"><tspan  textLength="29.90" lengthAdjust="spacingAndGlyphs">9.9</tspan><tspan stroke-width=".12" dx="0.20" textLength="15.58" lengthAdjust="spacingAndGlyphs">%</tspan></text>
<text class="c" text-anchor="start" transform="translate(38.00,158.00) scale(1.0655,1)">Glenn</text>
<text class="n" x="37.50" y="224.80"><tspan  textLength="38.71" lengthAdjust="spacingAndGlyphs">10.3</tspan><tspan stroke-width=".12" dx="0.20" textLength="15.60" lengthAdjust="spacingAndGlyphs">%</tspan></text>
<text class="c" text-anchor="start" transform="translate(38.05,246.00) scale(1.0656,1)">San Joaquin</text>
<text class="n" x="37.50" y="311.80"><tspan  textLength="38.71" lengthAdjust="spacingAndGlyphs">10.6</tspan><tspan stroke-width=".12" dx="0.20" textLength="15.60" lengthAdjust="spacingAndGlyphs">%</tspan></text>
<text class="c" text-anchor="start" transform="translate(37.55,333.00) scale(1.0748,1)">Kings</text>
<text class="n" x="121.00" y="168.80"><tspan  textLength="39.42" lengthAdjust="spacingAndGlyphs">12.0</tspan><tspan stroke-width=".12" dx="0.20" textLength="15.58" lengthAdjust="spacingAndGlyphs">%</tspan></text>
<text class="c" text-anchor="start" transform="translate(121.55,190.00) scale(1.0177,1)">Colusa</text>
<text class="n" x="120.30" y="267.80"><tspan  textLength="35.27" lengthAdjust="spacingAndGlyphs">11.3</tspan><tspan stroke-width=".12" dx="0.20" textLength="15.58" lengthAdjust="spacingAndGlyphs">%</tspan></text>
<text class="c" text-anchor="start" transform="translate(120.75,289.00) scale(1.0958,1)">Merced</text>
<text class="n" x="121.45" y="356.80"><tspan  textLength="30.18" lengthAdjust="spacingAndGlyphs">9.5</tspan><tspan stroke-width=".12" dx="0.45" textLength="15.59" lengthAdjust="spacingAndGlyphs">%</tspan></text>
<text class="c" text-anchor="start" transform="translate(120.60,378.00) scale(1.0501,1)">Kern</text>
<text class="n" x="434.60" y="43.80"><tspan  textLength="30.71" lengthAdjust="spacingAndGlyphs">9.2</tspan><tspan stroke-width=".12" dx="-0.05" textLength="15.58" lengthAdjust="spacingAndGlyphs">%</tspan></text>
<text class="c" text-anchor="end" transform="translate(481.40,65.00) scale(1.0826,1)">Siskiyou</text>
<text class="n" x="428.85" y="147.80"><tspan  textLength="35.71" lengthAdjust="spacingAndGlyphs">11.9</tspan><tspan stroke-width=".12" dx="0.20" textLength="15.58" lengthAdjust="spacingAndGlyphs">%</tspan></text>
<text class="c" text-anchor="end" transform="translate(480.65,169.00) scale(1.0020,1)">Yuba</text>
<text class="n" x="424.95" y="230.80"><tspan  textLength="39.62" lengthAdjust="spacingAndGlyphs">10.2</tspan><tspan stroke-width=".12" dx="0.20" textLength="15.58" lengthAdjust="spacingAndGlyphs">%</tspan></text>
<text class="c" text-anchor="end" transform="translate(481.05,252.00) scale(1.0408,1)">Stanislaus</text>
<text class="n" x="511.80" y="169.80"><tspan  textLength="39.76" lengthAdjust="spacingAndGlyphs">10.5</tspan><tspan stroke-width=".12" dx="0.20" textLength="15.58" lengthAdjust="spacingAndGlyphs">%</tspan></text>
<text class="c" text-anchor="end" transform="translate(567.65,191.00) scale(1.0759,1)">Sutter</text>
<text class="n" x="518.50" y="286.80"><tspan  textLength="32.80" lengthAdjust="spacingAndGlyphs">10.1</tspan><tspan stroke-width=".12" dx="0.45" textLength="15.58" lengthAdjust="spacingAndGlyphs">%</tspan></text>
<text class="c" text-anchor="end" transform="translate(568.30,308.00) scale(1.0722,1)">Fresno</text>
<text class="n" x="607.70" y="109.80"><tspan  textLength="28.99" lengthAdjust="spacingAndGlyphs">9.3</tspan><tspan stroke-width=".12" dx="0.20" textLength="15.86" lengthAdjust="spacingAndGlyphs">%</tspan></text>
<text class="c" text-anchor="end" transform="translate(652.45,131.00) scale(1.0242,1)">Tehama</text>
<text class="n" x="597.15" y="190.80"><tspan  textLength="39.56" lengthAdjust="spacingAndGlyphs">10.5</tspan><tspan stroke-width=".12" dx="0.20" textLength="15.60" lengthAdjust="spacingAndGlyphs">%</tspan></text>
<text class="c" text-anchor="end" transform="translate(653.50,212.00) scale(1.1100,1)">Alpine</text>
<text class="n" x="606.80" y="254.80"><tspan  textLength="30.16" lengthAdjust="spacingAndGlyphs">9.0</tspan><tspan stroke-width=".12" dx="-0.05" textLength="15.60" lengthAdjust="spacingAndGlyphs">%</tspan></text>
<text class="c" text-anchor="end" transform="translate(652.45,276.00) scale(1.0640,1)">Madera</text>
<text class="n" x="600.80" y="316.80"><tspan  textLength="35.91" lengthAdjust="spacingAndGlyphs">11.8</tspan><tspan stroke-width=".12" dx="0.20" textLength="15.60" lengthAdjust="spacingAndGlyphs">%</tspan></text>
<text class="c" text-anchor="end" transform="translate(653.25,338.00) scale(1.0295,1)">Tulare</text>
<text class="n" x="600.05" y="451.80"><tspan  textLength="36.62" lengthAdjust="spacingAndGlyphs">25.1</tspan><tspan stroke-width=".12" dx="0.20" textLength="15.87" lengthAdjust="spacingAndGlyphs">%</tspan></text>
<text class="c" text-anchor="end" transform="translate(653.20,473.00) scale(1.0835,1)">Imperial</text>
</g>

</svg></body></html>
